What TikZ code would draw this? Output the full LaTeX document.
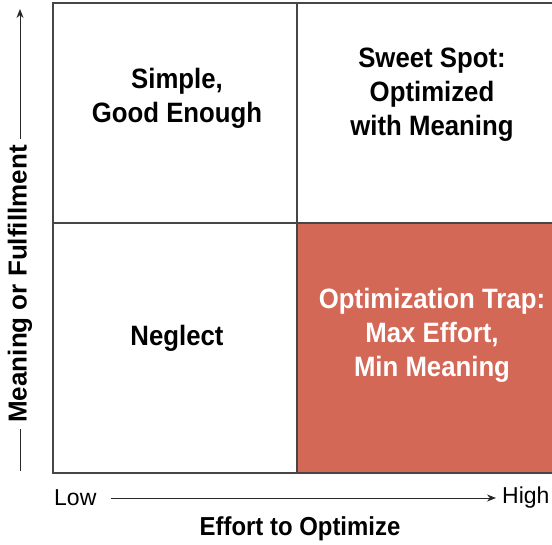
\documentclass[tikz,border=0pt]{standalone}
\usepackage{fontspec}
\setmainfont{Liberation Sans}
\newfontfamily\quadfont{Liberation Sans}[FakeStretch=0.92]
\usetikzlibrary{arrows.meta}
\definecolor{trapred}{RGB}{211,104,87}
\definecolor{gridline}{RGB}{70,70,70}
\tikzset{
  quadtext/.style={font=\quadfont\bfseries\fontsize{28}{34}\selectfont, align=center, inner sep=0pt},
  axislabel/.style={font=\fontsize{23}{26}\selectfont, inner sep=0pt},
  axistitle/.style={font=\quadfont\bfseries\fontsize{26}{30}\selectfont, inner sep=0pt},
  gridln/.style={draw=gridline, line width=1.2pt},
  axisarrow/.style={draw=black!85, line width=1pt, -{Stealth[length=9pt,width=7pt]}}
}
\begin{document}
\begin{tikzpicture}[x=1pt,y=-1pt]
\useasboundingbox (0,0) rectangle (552,545);
\fill[white] (0,0) rectangle (552,545);
% quadrant corners
\coordinate (tl) at (53,3);
\coordinate (tm) at (297,3);
\coordinate (tr) at (556,3);
\coordinate (ml) at (53,223);
\coordinate (mm) at (297,223);
\coordinate (mr) at (556,223);
\coordinate (bl) at (53,473);
\coordinate (bm) at (297,473);
\coordinate (br) at (556,473);
% trap fill
\fill[trapred] (mm) rectangle (br);
% grid
\draw[gridln] (tr) -- (tl) -- (bl) -- (br);
\draw[gridln] (tm) -- (bm);
\draw[gridln] (ml) -- (mr);
% quadrant texts
\node[quadtext] (q1) at (177,98) {Simple,\\Good Enough};
\node[quadtext] (q2) at (432,95) {Sweet Spot:\\Optimized\\with Meaning};
\node[quadtext] (q3) at (177,338) {Neglect};
\node[quadtext, text=white] (q4) at (432,335) {Optimization Trap:\\Max Effort,\\Min Meaning};
% y axis
\coordinate (ybot) at (20,471);
\coordinate (ytop) at (20,9);
\draw[axisarrow] (ybot) -- (ytop);
\node[axistitle, rotate=90, fill=white, inner xsep=6pt, inner ysep=2pt, font=\bfseries\fontsize{26}{30}\selectfont] (ylab) at (20,284) {Meaning or Fulfillment};
% x axis
\node[axislabel, anchor=west] (low) at (54,498) {Low};
\node[axislabel, anchor=west] (high) at (502,498) {High};
\draw[axisarrow] ([xshift=14pt]low.east) -- ([xshift=-6pt]high.west);
\node[axistitle] (xlab) at (300,529) {Effort to Optimize};
\end{tikzpicture}
\end{document}
